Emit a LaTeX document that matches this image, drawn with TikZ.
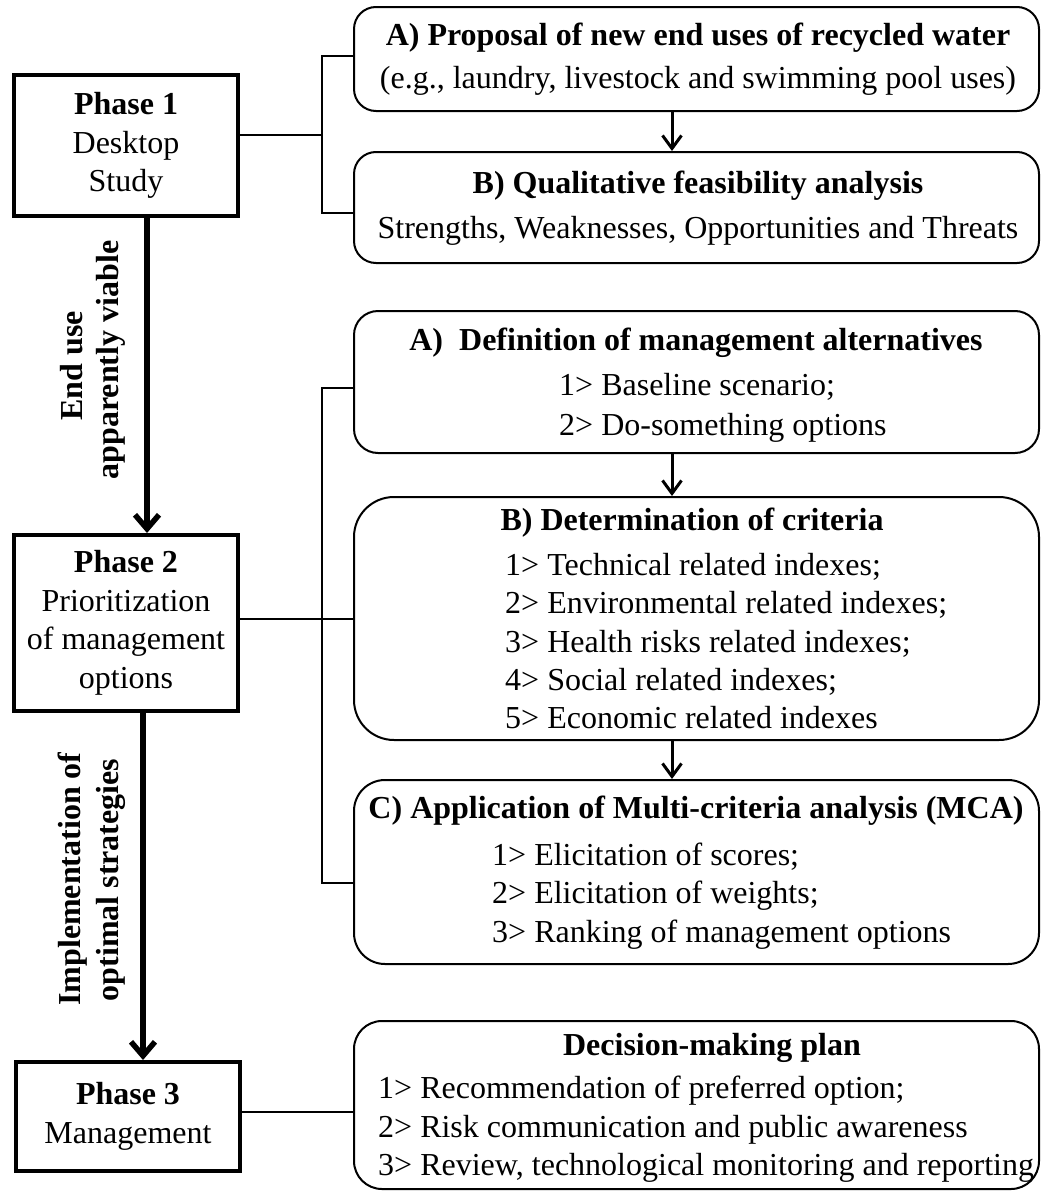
\documentclass[tikz,border=0pt]{standalone}
\usepackage{fontspec}
\setmainfont{Liberation Serif}
\usetikzlibrary{arrows.meta}

\begin{document}
\begin{tikzpicture}[x=1pt,y=-1pt,
  phase/.style={draw, line width=4.5pt, minimum width=224pt, inner sep=0pt,
    outer sep=2pt, align=center, font=\fontsize{32}{38.5}\selectfont},
  task/.style={draw, line width=2pt, minimum width=685pt, inner sep=0pt,
    outer sep=1pt, rounded corners=22pt},
  ttl/.style={font=\fontsize{32}{38}\selectfont\bfseries, anchor=base, inner sep=0pt},
  txt/.style={font=\fontsize{32}{38}\selectfont, anchor=base, inner sep=0pt},
  item/.style={font=\fontsize{32}{38}\selectfont, anchor=base west, inner sep=0pt},
  side/.style={font=\fontsize{32}{38}\selectfont\bfseries, rotate=90, anchor=base, inner sep=0pt},
  link/.style={line width=1.5pt},
  flow/.style={line width=5.5pt, -{Straight Barb[length=14pt,width=24pt]}},
  substep/.style={line width=3pt, -{Straight Barb[length=13pt,width=19pt]}}]

\useasboundingbox (0,0) rectangle (1043,1191);

% phase boxes
\node[phase, minimum height=141pt] (p1) at (126,145.5) {\textbf{Phase 1}\\Desktop\\Study};
\node[phase, minimum height=176pt] (p2) at (126,623) {\textbf{Phase 2}\\Prioritization\\of management\\options};
\node[phase, minimum height=109pt] (p3) at (128,1116.5) {\textbf{Phase 3}\\Management};

% task boxes
\node[task, minimum height=104pt] (a1) at (696.5,59) {};
\node[task, minimum height=111pt] (b1) at (696.5,207.5) {};
\node[task, minimum height=142pt, rounded corners=24pt] (a2) at (696.5,382) {};
\node[task, minimum height=243pt, rounded corners=40pt] (b2) at (696.5,618.5) {};
\node[task, minimum height=184pt, rounded corners=31pt] (c2) at (696.5,872) {};
\node[task, minimum height=168pt, rounded corners=28pt] (d3) at (696.5,1105) {};

% texts of phase 1 tasks
\node[ttl] (a1t) at (698,45) {A) Proposal of new end uses of recycled water};
\node[txt] (a1s) at (698,88) {(e.g., laundry, livestock and swimming pool uses)};
\node[ttl] (b1t) at (698,193) {B) Qualitative feasibility analysis};
\node[txt] (b1s) at (698,238) {Strengths, Weaknesses, Opportunities and Threats};

% texts of phase 2 tasks
\node[ttl] (a2t) at (696,350) {A)\enspace Definition of management alternatives};
\node[item] (a2i1) at (559,395) {1> Baseline scenario;};
\node[item] (a2i2) at (559,435) {2> Do-something options};

\node[ttl] (b2t) at (692,530) {B) Determination of criteria};
\node[item] (b2i1) at (505,575) {1> Technical related indexes;};
\node[item] (b2i2) at (505,613) {2> Environmental related indexes;};
\node[item] (b2i3) at (505,652) {3> Health risks related indexes;};
\node[item] (b2i4) at (505,690) {4> Social related indexes;};
\node[item] (b2i5) at (505,728) {5> Economic related indexes};

\node[ttl] (c2t) at (696,818) {C) Application of Multi-criteria analysis (MCA)};
\node[item] (c2i1) at (492,865) {1> Elicitation of scores;};
\node[item] (c2i2) at (492,903) {2> Elicitation of weights;};
\node[item] (c2i3) at (492,942) {3> Ranking of management options};

% texts of phase 3 task
\node[ttl] (d3t) at (712,1055) {Decision-making plan};
\node[item] (d3i1) at (378,1098) {1> Recommendation of preferred option;};
\node[item] (d3i2) at (378,1137) {2> Risk communication and public awareness};
\node[item] (d3i3) at (378,1175) {3> Review, technological monitoring and reporting};

% labels along the main flow
\node[side] (l1a) at (82,366) {End use};
\node[side] (l1b) at (118,360) {apparently viable};
\node[side] (l2a) at (80,879) {Implementation of};
\node[side] (l2b) at (118,880) {optimal strategies};

% junction points
\coordinate (k1) at (322,135);
\coordinate (k1a) at (322,56);
\coordinate (k1b) at (322,213);
\coordinate (k2) at (322,619);
\coordinate (k2a) at (322,388);
\coordinate (k2b) at (322,883);
\coordinate (k3) at (322,1112);
\coordinate (f1) at (147,0);
\coordinate (f2) at (143,0);
\coordinate (s) at (672,0);

% brackets linking phases to their tasks
\draw[link] (k1 -| p1.east) -- (k1);
\draw[link] (k1a -| a1.west) -- (k1a) -- (k1b) -- (k1b -| b1.west);
\draw[link] (k2 -| p2.east) -- (k2 -| b2.west);
\draw[link] (k2a -| a2.west) -- (k2a) -- (k2b) -- (k2b -| c2.west);
\draw[link] (k3 -| p3.east) -- (k3 -| d3.west);

% main flow
\draw[flow] (f1 |- p1.south) -- (f1 |- p2.north);
\draw[flow] (f2 |- p2.south) -- (f2 |- p3.north);

% steps inside phases
\draw[substep] (s |- a1.south) -- (s |- b1.north);
\draw[substep] (s |- a2.south) -- (s |- b2.north);
\draw[substep] (s |- b2.south) -- (s |- c2.north);

\end{tikzpicture}
\end{document}
